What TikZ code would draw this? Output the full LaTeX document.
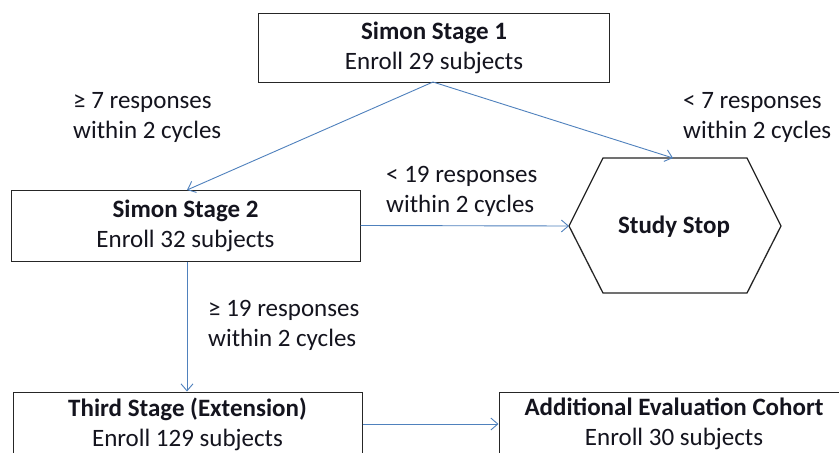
\documentclass[tikz,border=0pt]{standalone}
\usepackage{fontspec}
\setmainfont{Carlito}
\usetikzlibrary{arrows.meta}
\definecolor{arrowblue}{RGB}{79,129,189}
\definecolor{txt}{RGB}{20,20,30}
\tikzset{
  box/.style={draw=black!85, line width=1pt, fill=white, inner sep=0pt},
  boxtext/.style={text=txt, font=\fontsize{25}{30}\selectfont, align=center},
  lbl/.style={text=txt, font=\fontsize{25}{30}\selectfont, align=left, anchor=north west, inner sep=0pt},
  conn/.style={draw=arrowblue, line width=0.9pt, -{Straight Barb[length=7pt,width=12pt,line width=0.9pt]}}
}
\begin{document}
\begin{tikzpicture}[x=1pt,y=-1pt]
\clip (0,0) rectangle (839,453);
\fill[white] (0,0) rectangle (839,453);
% boxes
\node[box, minimum width=351pt, minimum height=69pt] (s1) at (434,47.5) {};
\node[boxtext] (s1t) at (s1) {\textbf{Simon Stage 1}\\Enroll 29 subjects};
\node[box, minimum width=349pt, minimum height=71pt] (s2) at (185.5,225.5) {};
\node[boxtext] (s2t) at (s2) {\textbf{Simon Stage 2}\\Enroll 32 subjects};
\node[box, minimum width=349pt, minimum height=90pt] (t3) at (187.5,437) {};
\node[boxtext] (t3t) at (187.5,424) {\textbf{Third Stage (Extension)}\\Enroll 129 subjects};
\node[box, minimum width=340pt, minimum height=90pt] (ac) at (669,437) {};
\node[boxtext] (act) at (674,424) {\textbf{Additional Evaluation Cohort}\\Enroll 30 subjects};
% hexagon
\coordinate (hL) at (569,226);
\coordinate (hTL) at (603,158);
\coordinate (hTR) at (747,158);
\coordinate (hR) at (781,226);
\coordinate (hBR) at (747,293);
\coordinate (hBL) at (603,293);
\coordinate (hT) at (673,158);
\draw[draw=black!85, line width=1.3pt, fill=white] (hL) -- (hTL) -- (hTR) -- (hR) -- (hBR) -- (hBL) -- cycle;
\node[boxtext] (stop) at (674,227) {\textbf{Study Stop}};
% labels
\node[lbl] (l1) at (73,92) {≥ 7 responses\\within 2 cycles};
\node[lbl] (l2) at (683,92) {< 7 responses\\within 2 cycles};
\node[lbl] (l3) at (386,166) {< 19 responses\\within 2 cycles};
\node[lbl] (l4) at (208,300) {≥ 19 responses\\within 2 cycles};
% connectors
\coordinate (s1b) at (433,82);
\draw[conn] (s1b) -- (187,190);
\draw[conn] (s1b) -- (hT);
\draw[conn] (s2.east) -- (hL);
\draw[conn] (s2.south -| 187,0) -- (t3.north -| 187,0);
\draw[conn] (t3.east |- t3t) -- (ac.west |- t3t);
\end{tikzpicture}
\end{document}
